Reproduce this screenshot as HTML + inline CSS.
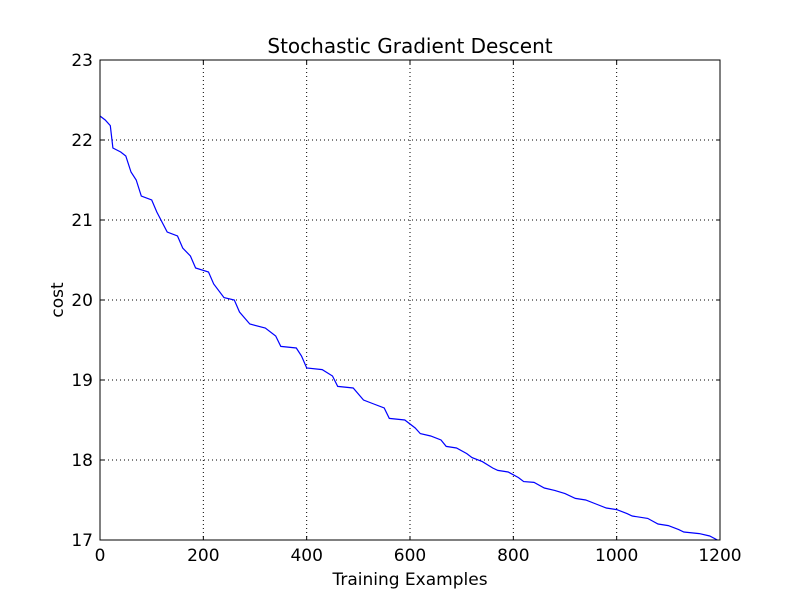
<!DOCTYPE html>
<html><head><meta charset="utf-8"><style>
html,body{margin:0;padding:0;background:#fff;}
svg{display:block;font-family:"DejaVu Sans","Liberation Sans",sans-serif;}
</style></head><body>
<svg id="chart" width="800" height="600">
<rect x="0" y="0" width="800" height="600" fill="#fff"/>
<g id="grid"></g>
<g id="series"></g>
<rect x="100" y="60" width="620" height="480" fill="none" stroke="#000" stroke-width="1"/>
<g id="ticks"></g>
<text x="410" y="53" font-size="20" text-anchor="middle">Stochastic Gradient Descent</text>
<text x="410" y="585" font-size="17" text-anchor="middle">Training Examples</text>
<text x="63" y="300" font-size="17" text-anchor="middle" transform="rotate(-90 63 300)">cost</text>
</svg>
<script>
const examples=[0,10,20,25,40,50,60,70,80,100,110,130,150,160,175,185,210,220,240,260,270,290,320,340,350,380,390,400,430,450,460,490,510,530,550,560,590,610,620,640,660,670,690,710,720,740,760,770,790,810,820,840,860,880,900,920,940,960,980,1000,1020,1030,1060,1080,1100,1120,1130,1160,1180,1195];
const costs=[22.3,22.25,22.18,21.9,21.85,21.8,21.6,21.5,21.3,21.25,21.1,20.85,20.8,20.65,20.55,20.4,20.35,20.2,20.03,20.0,19.85,19.7,19.65,19.55,19.42,19.4,19.3,19.15,19.13,19.05,18.92,18.9,18.75,18.7,18.65,18.52,18.5,18.4,18.33,18.3,18.25,18.17,18.15,18.08,18.03,17.98,17.9,17.87,17.85,17.78,17.73,17.72,17.65,17.62,17.58,17.52,17.5,17.45,17.4,17.38,17.33,17.3,17.27,17.2,17.18,17.13,17.1,17.08,17.05,17.0];
const xTicks=[0,200,400,600,800,1000,1200];
const yTicks=[17,18,19,20,21,22,23];
const NS="http://www.w3.org/2000/svg";
const X=v=>100+(v-0)/1200*620;
const Y=v=>540-(v-17)/6*480;
function mk(t,a,p){const e=document.createElementNS(NS,t);for(const k in a)e.setAttribute(k,a[k]);p.appendChild(e);return e;}
const grid=document.getElementById('grid'),ticks=document.getElementById('ticks'),series=document.getElementById('series');
xTicks.forEach(v=>{
 const x=X(v);
 const g=mk('line',{x1:x,x2:x,y1:60,y2:540,stroke:'#000','stroke-dasharray':'1,3','stroke-width':1},grid);
 
 
 mk('line',{x1:x,x2:x,y1:540,y2:536,stroke:'#000'},ticks);
 mk('line',{x1:x,x2:x,y1:60,y2:64,stroke:'#000'},ticks);
 const t=mk('text',{x:x,y:561,'font-size':17,'text-anchor':'middle'},ticks);
 t.textContent=v;
 
 
});
yTicks.forEach(v=>{
 const y=Y(v);
 const g=mk('line',{x1:100,x2:720,y1:y,y2:y,stroke:'#000','stroke-dasharray':'1,3','stroke-width':1},grid);
 
 
 mk('line',{x1:100,x2:104,y1:y,y2:y,stroke:'#000'},ticks);
 mk('line',{x1:716,x2:720,y1:y,y2:y,stroke:'#000'},ticks);
 const t=mk('text',{x:93,y:y+6,'font-size':17,'text-anchor':'end'},ticks);
 t.textContent=v;
 
 
});
let d='';
examples.forEach((v,i)=>{d+=(i?'L':'M')+X(v).toFixed(1)+','+Y(costs[i]).toFixed(1);});
const p=mk('path',{d:d,fill:'none',stroke:'#0000ff','stroke-width':1.2},series);


</script>
</body></html>
